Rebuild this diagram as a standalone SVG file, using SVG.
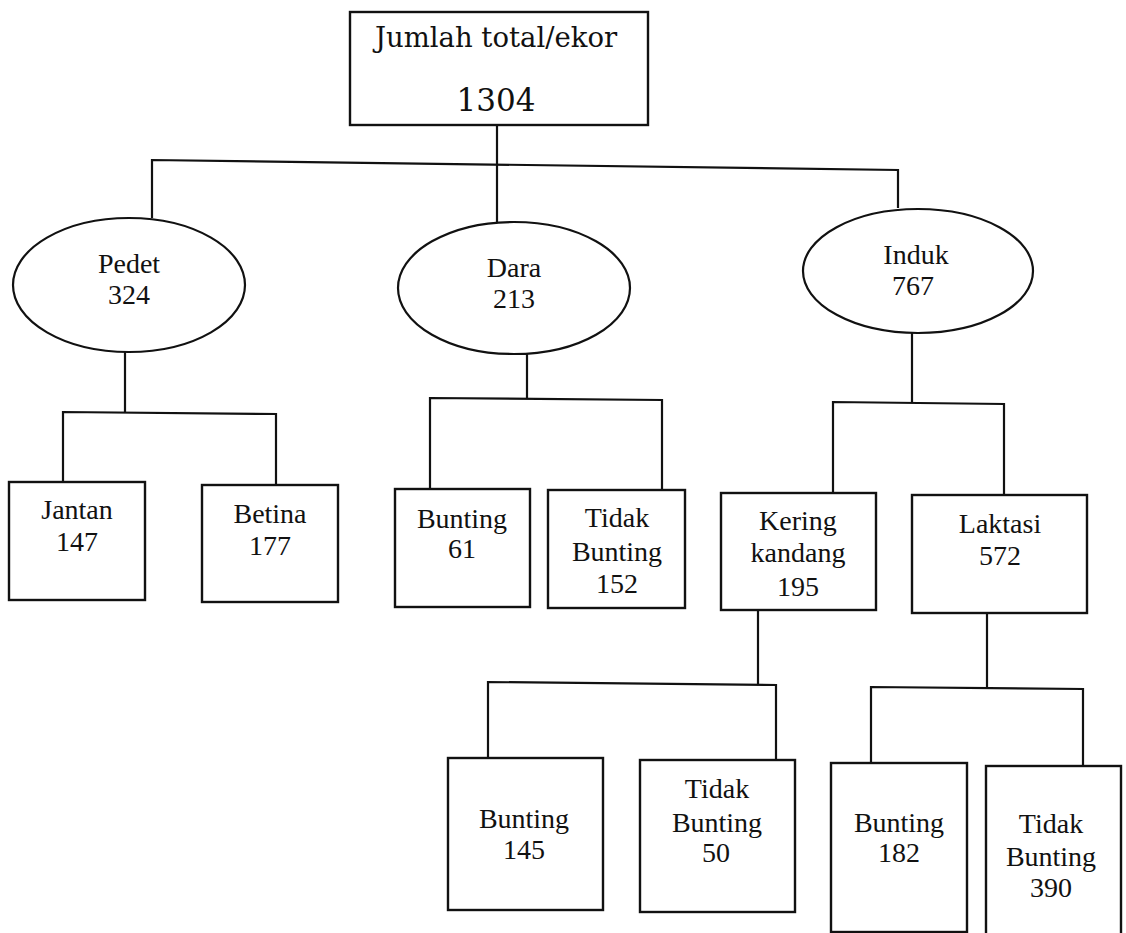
<svg xmlns="http://www.w3.org/2000/svg" width="1126" height="933" viewBox="0 0 1126 933">
<style>
.bx{fill:#fff;stroke:#111;stroke-width:2.4}
.el{fill:#fff;stroke:#111;stroke-width:2.2}
.cn{fill:none;stroke:#111;stroke-width:2.2;stroke-linejoin:miter}
.t{font-family:"Liberation Serif","Times New Roman",serif;font-size:28px;fill:#111;text-anchor:middle}
.tt{font-family:"DejaVu Serif","Liberation Serif",serif;fill:#111;text-anchor:middle}
</style>
<rect width="1126" height="933" fill="#fff"/>
<g id="connectors">
<path class="cn" d="M497,125 V222"/>
<polyline class="cn" points="152,218 152,160 898,170 898,208"/>
<path class="cn" d="M125,352 V413 M63,482 V412 L276,414 V486"/>
<path class="cn" d="M527,354 V399 M430,489 V398 L662,400 V491"/>
<path class="cn" d="M912,333 V403 M833,493 V402 L1004,404 V495"/>
<path class="cn" d="M758,610 V684 M488,758 V682 L776,685 V762"/>
<path class="cn" d="M987,613 V688 M871,763 V687 L1083,689 V767"/>
</g>
<g id="n-total">
<rect class="bx" x="350" y="12" width="298" height="113"/>
<text class="tt" x="496" y="47" font-size="27.5">Jumlah total/ekor</text>
<text class="tt" x="496" y="111" font-size="31">1304</text>
</g>
<g id="n-pedet">
<ellipse class="el" cx="129" cy="285" rx="116" ry="67"/>
<text class="t" x="129" y="273">Pedet</text>
<text class="t" x="129" y="304">324</text>
</g>
<g id="n-dara">
<ellipse class="el" cx="514" cy="288" rx="116" ry="66"/>
<text class="t" x="514" y="277">Dara</text>
<text class="t" x="514" y="308">213</text>
</g>
<g id="n-induk">
<ellipse class="el" cx="918" cy="271" rx="115" ry="62"/>
<text class="t" x="916" y="264">Induk</text>
<text class="t" x="913" y="295">767</text>
</g>
<g id="n-jantan">
<rect class="bx" x="9" y="482" width="136" height="118"/>
<text class="t" x="77" y="519">Jantan</text>
<text class="t" x="77" y="551">147</text>
</g>
<g id="n-betina">
<rect class="bx" x="202" y="485" width="136" height="117"/>
<text class="t" x="270" y="523">Betina</text>
<text class="t" x="270" y="555">177</text>
</g>
<g id="n-dara-bunting">
<rect class="bx" x="395" y="489" width="135" height="118"/>
<text class="t" x="462" y="528">Bunting</text>
<text class="t" x="462" y="558">61</text>
</g>
<g id="n-dara-tidak">
<rect class="bx" x="548" y="490" width="137" height="118"/>
<text class="t" x="617" y="527">Tidak</text>
<text class="t" x="617" y="561">Bunting</text>
<text class="t" x="617" y="593">152</text>
</g>
<g id="n-kering">
<rect class="bx" x="721" y="493" width="155" height="117"/>
<text class="t" x="798" y="530">Kering</text>
<text class="t" x="798" y="562">kandang</text>
<text class="t" x="798" y="596">195</text>
</g>
<g id="n-laktasi">
<rect class="bx" x="912" y="495" width="175" height="118"/>
<text class="t" x="1000" y="533">Laktasi</text>
<text class="t" x="1000" y="565">572</text>
</g>
<g id="n-kering-bunting">
<rect class="bx" x="448" y="758" width="155" height="152"/>
<text class="t" x="524" y="828">Bunting</text>
<text class="t" x="524" y="859">145</text>
</g>
<g id="n-kering-tidak">
<rect class="bx" x="640" y="760" width="155" height="152"/>
<text class="t" x="717" y="798">Tidak</text>
<text class="t" x="717" y="832">Bunting</text>
<text class="t" x="716" y="862">50</text>
</g>
<g id="n-laktasi-bunting">
<rect class="bx" x="831" y="763" width="136" height="169"/>
<text class="t" x="899" y="832">Bunting</text>
<text class="t" x="899" y="862">182</text>
</g>
<g id="n-laktasi-tidak">
<rect class="bx" x="986" y="766" width="135" height="172"/>
<text class="t" x="1051" y="833">Tidak</text>
<text class="t" x="1051" y="866">Bunting</text>
<text class="t" x="1051" y="897">390</text>
</g>
</svg>
